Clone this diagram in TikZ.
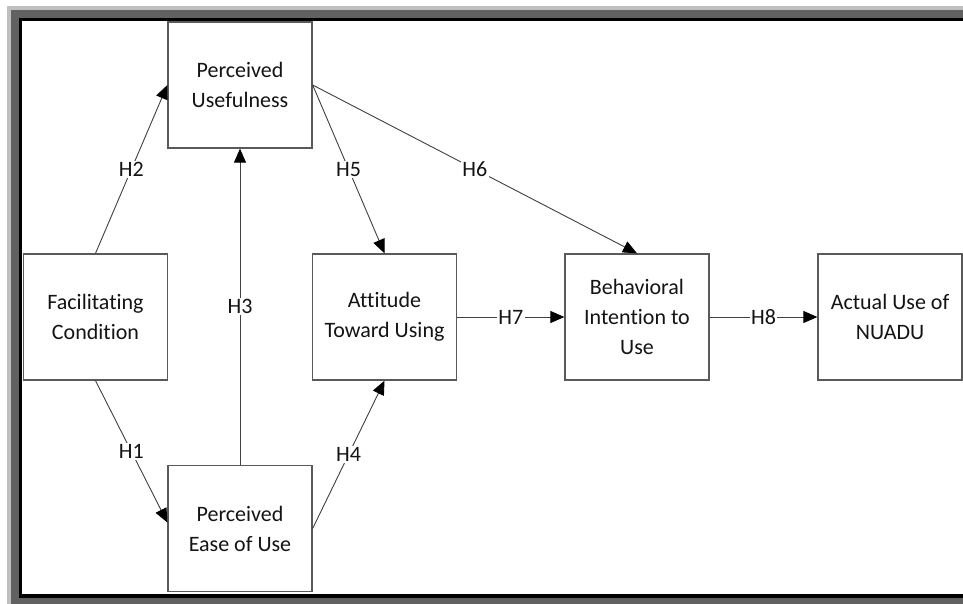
\documentclass[tikz,border=0pt]{standalone}
\usepackage{fontspec}
\setmainfont{Carlito}[Ligatures=NoCommon]
\usetikzlibrary{arrows.meta}
\definecolor{boxline}{HTML}{5A5A5A}
\definecolor{conline}{HTML}{404040}
\definecolor{txt}{HTML}{141414}
\begin{document}
\begin{tikzpicture}[x=1pt,y=-1pt,
  construct/.style={draw=boxline, line width=1.3pt, fill=white, rectangle,
    minimum width=144pt, minimum height=126pt, align=center, text=txt,
    font=\fontsize{22}{30}\selectfont, inner sep=0pt},
  conn/.style={draw=conline, line width=0.9pt, -{Triangle[length=14pt,width=12pt,color=black]}},
  hlabel/.style={fill=white, text=txt, inner sep=1.5pt, font=\fontsize{22}{26}\selectfont}]
\useasboundingbox (0,0) rectangle (963,604);
% frame
\fill[white] (0,0) rectangle (963,604);
\fill[black!25] (7,6) rectangle (963,604);
\fill[black!62] (11,10) rectangle (963,604);
\fill[black] (19,18) rectangle (963,598);
\fill[white] (22,21) rectangle (963,594);
% constructs
\node[construct] (pu)  at (240,85)    {Perceived\\Usefulness};
\node[construct] (fc)  at (95.5,317)  {Facilitating\\Condition};
\node[construct] (peu) at (240,528.5) {Perceived\\Ease of Use};
\node[construct] (atu) at (384.5,317) {Attitude\\Toward Using};
\node[construct] (bi)  at (637,317)   {Behavioral\\Intention to\\Use};
\node[construct] (au)  at (890,317)   {Actual Use of\\NUADU};
% connectors
\draw[conn] (fc.north) -- node[hlabel]{H2} (pu.west);
\draw[conn] (fc.south) -- node[hlabel]{H1} ([yshift=6pt]peu.west);
\draw[conn] (peu.north) -- node[hlabel]{H3} (pu.south);
\draw[conn] (peu.east) -- node[hlabel]{H4} (atu.south);
\draw[conn] (pu.east) -- node[hlabel]{H5} (atu.north);
\draw[conn] (pu.east) -- node[hlabel]{H6} (bi.north);
\draw[conn] (atu.east) -- node[hlabel]{H7} (bi.west);
\draw[conn] (bi.east) -- node[hlabel]{H8} (au.west);
\end{tikzpicture}
\end{document}
